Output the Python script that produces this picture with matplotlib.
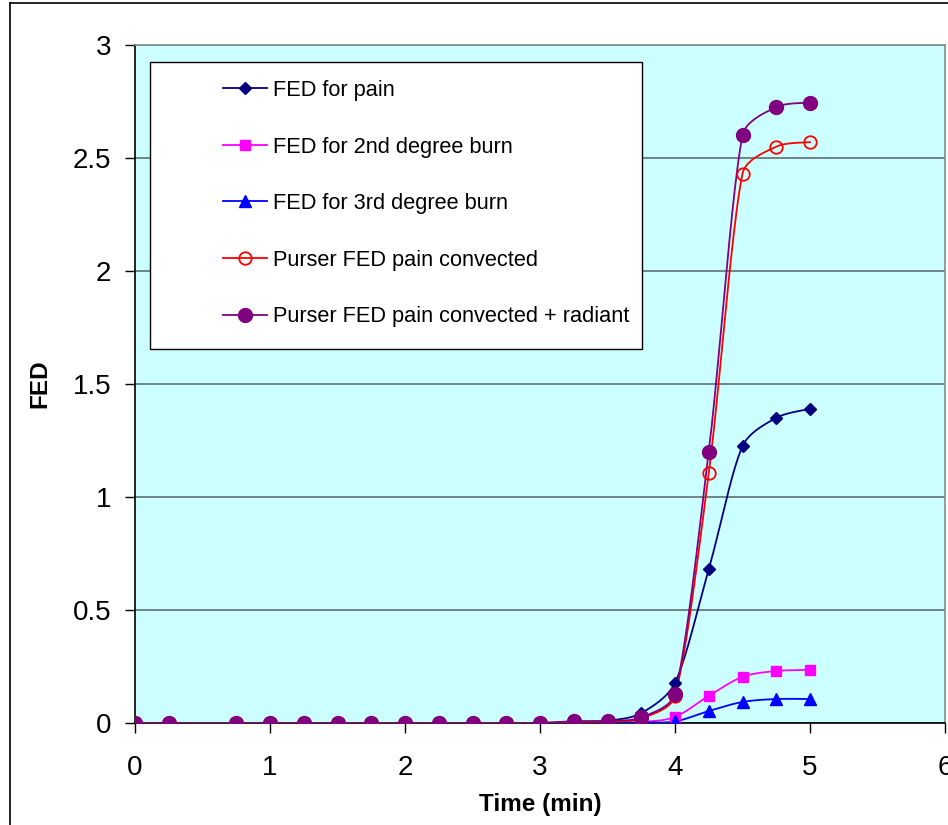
import numpy as np
import matplotlib.pyplot as plt
from matplotlib.patches import Rectangle
from matplotlib.lines import Line2D

# time points (min)
time_min = [0, 0.25, 0.75, 1, 1.25, 1.5, 1.75, 2, 2.25, 2.5, 2.75, 3,
            3.25, 3.5, 3.75, 4, 4.25, 4.5, 4.75, 5]

fed_pain = [0, 0, 0, 0, 0, 0, 0, 0, 0, 0, 0, 0,
            0.003, 0.01, 0.044, 0.177, 0.68, 1.225, 1.35, 1.39]
fed_2nd_burn = [0, 0, 0, 0, 0, 0, 0, 0, 0, 0, 0, 0,
                0, 0.001, 0.004, 0.027, 0.12, 0.204, 0.23, 0.235]
fed_3rd_burn = [0, 0, 0, 0, 0, 0, 0, 0, 0, 0, 0, 0,
                0, 0, 0.002, 0.007, 0.053, 0.093, 0.106, 0.106]
purser_conv = [0, 0, 0, 0, 0, 0, 0, 0, 0, 0, 0, 0,
               0.005, 0.007, 0.02, 0.12, 1.105, 2.43, 2.55, 2.57]
purser_conv_rad = [0, 0, 0, 0, 0, 0, 0, 0, 0, 0, 0, 0,
                   0.008, 0.01, 0.025, 0.13, 1.2, 2.60, 2.725, 2.745]

labels = ["FED for pain", "FED for 2nd degree burn", "FED for 3rd degree burn",
          "Purser FED pain convected", "Purser FED pain convected + radiant"]


def excel_smooth(x, y, ax, n=24):
    """Bezier smoothing (like a smoothed Excel line), done in pixel space.
    Control arms are capped so the curve doesn't overshoot after big jumps."""
    pts = ax.transData.transform(np.column_stack([x, y]))

    def arm(prev, cur, nxt, seg_len):
        tan = nxt - prev
        norm = np.hypot(*tan)
        if norm == 0:
            return np.zeros(2)
        length = min(norm / 6.0, seg_len / 3.0)
        return tan / norm * length

    out = [pts[0]]
    for i in range(len(pts) - 1):
        p0 = pts[i - 1] if i > 0 else pts[i]
        p1 = pts[i]
        p2 = pts[i + 1]
        p3 = pts[i + 2] if i + 2 < len(pts) else pts[i + 1]
        seg = np.hypot(*(p2 - p1))
        c1 = p1 + arm(p0, p1, p2, seg)
        c2 = p2 - arm(p1, p2, p3, seg)
        t = np.linspace(0, 1, n)[1:, None]
        curve = ((1 - t) ** 3) * p1 + 3 * ((1 - t) ** 2) * t * c1 \
            + 3 * (1 - t) * (t ** 2) * c2 + (t ** 3) * p2
        out.extend(curve)
    out = np.array(out)
    return ax.transData.inverted().transform(out)


plt.rcParams['font.family'] = ['Liberation Sans', 'DejaVu Sans']

fig = plt.figure(figsize=(9.48, 8.25), dpi=100)
ax = fig.add_axes([135 / 948, 1 - 723 / 825, 810 / 948, 678 / 825])
ax.set_facecolor('#CCFFFF')
ax.set_xlim(0, 6)
ax.set_ylim(0, 3)

series = [
    (fed_pain, '#000080', dict(marker='D', markersize=6.5, markerfacecolor='#000080',
                               markeredgecolor='#000080')),
    (fed_2nd_burn, '#FF00FF', dict(marker='s', markersize=7.5, markerfacecolor='#FF00FF',
                                   markeredgecolor='#FF00FF')),
    (fed_3rd_burn, '#0000FF', dict(marker='^', markersize=8, markerfacecolor='#0000FF',
                                   markeredgecolor='#0000FF')),
    (purser_conv, '#FF0000', dict(marker='o', markersize=9, markerfacecolor='none',
                                  markeredgecolor='#FF0000', markeredgewidth=1.3)),
    (purser_conv_rad, '#800080', dict(marker='o', markersize=10, markerfacecolor='#800080',
                                      markeredgecolor='#800080')),
]

handles = []
for (vals, col, mk), lab in zip(series, labels):
    sm = excel_smooth(time_min, vals, ax)
    ax.plot(sm[:, 0], sm[:, 1], color=col, lw=1.3, zorder=3)
    ax.plot(time_min, vals, linestyle='none', zorder=4, **mk)
    handles.append(Line2D([], [], color=col, lw=1.3, **mk))

ax.set_yticks(np.arange(0, 3.01, 0.5))
ax.set_yticklabels(['0', '0.5', '1', '1.5', '2', '2.5', '3'])
ax.set_xticks(range(0, 7))
ax.grid(axis='y', color='#5F6F6F', lw=1.2)
ax.set_axisbelow(True)
ax.tick_params(labelsize=20, length=7.2, width=1, direction='out')
ax.tick_params(axis='x', pad=16)
ax.tick_params(axis='y', pad=10)

for side in ['top', 'right']:
    ax.spines[side].set_color('#7F8F8F')
    ax.spines[side].set_linewidth(1.2)
for side in ['left', 'bottom']:
    ax.spines[side].set_color('black')
    ax.spines[side].set_linewidth(1.2)

ax.set_xlabel('Time (min)', fontsize=17.5, fontweight='bold')
ax.set_ylabel('FED', fontsize=17.5, fontweight='bold')
ax.xaxis.set_label_coords(0.5, -(805 - 723) / 678)
ax.xaxis.label.set_va('center')
ax.yaxis.set_label_coords(-(135 - 40) / 810, 0.5)
ax.yaxis.label.set_va('center')

# legend frame and entries
fig.patches.append(Rectangle((150 / 948, 1 - 349 / 825), 492 / 948, 287 / 825,
                             transform=fig.transFigure, facecolor='white',
                             edgecolor='black', lw=1, zorder=5))
leg = fig.legend(handles, labels, loc='upper left',
                 bbox_to_anchor=(223 / 948, 1 - 80 / 825), frameon=False,
                 fontsize=15.7, handlelength=2.0, handletextpad=0.28,
                 labelspacing=1.63, borderpad=0, borderaxespad=0)
leg.set_zorder(6)

# outer chart border
fig.add_artist(Line2D([10 / 948, 10 / 948], [0, 1 - 3 / 825], color='black', lw=1.2))
fig.add_artist(Line2D([10 / 948, 1], [1 - 3 / 825, 1 - 3 / 825], color='black', lw=1.2))

fig.savefig('out.png', dpi=100)
